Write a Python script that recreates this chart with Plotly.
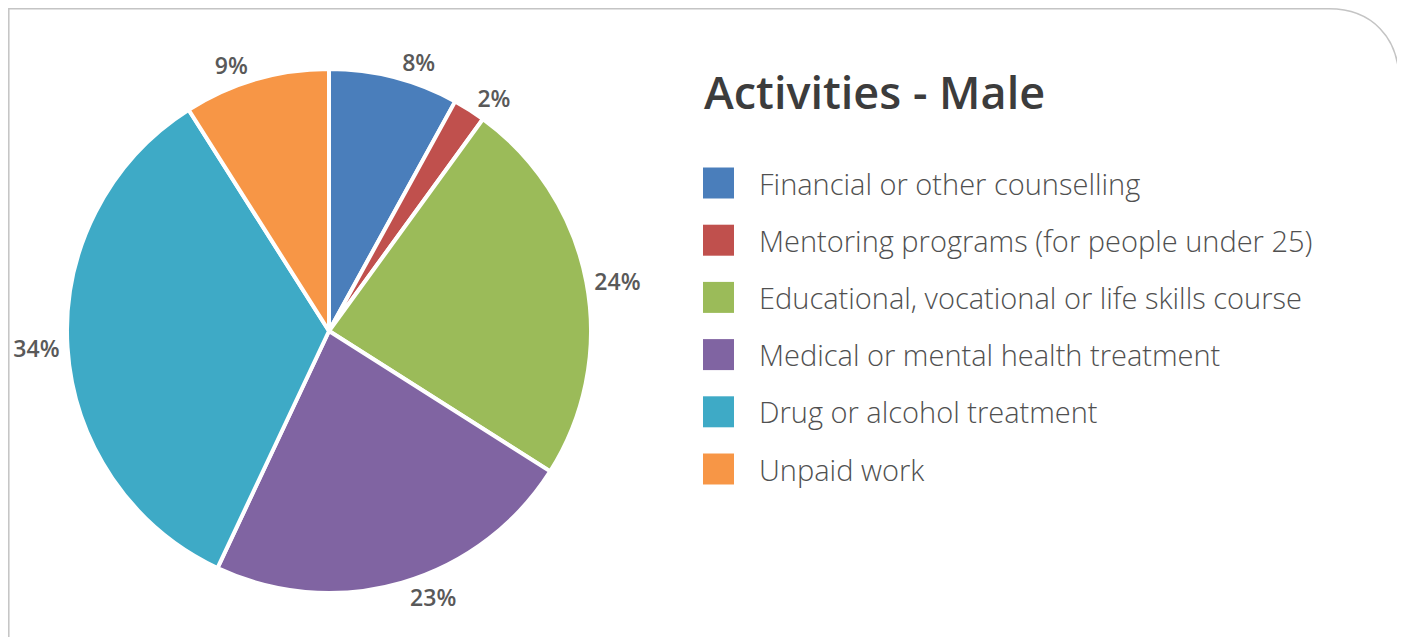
import plotly.graph_objects as go

W, H = 1405, 637

labels = ["Financial or other counselling",
          "Mentoring programs (for people under 25)",
          "Educational, vocational or life skills course",
          "Medical or mental health treatment",
          "Drug or alcohol treatment",
          "Unpaid work"]
values = [8, 2, 24, 23, 34, 9]
colors = ["#4a7ebb", "#c0504d", "#9bbb59", "#8064a2", "#3eaac6", "#f79646"]
title = "Activities - Male"

FONT = "Open Sans"
OFF = 8  # the page puts the plot 8px in from the top-left


def fx(x):
    return (x - OFF) / W


def fy(y):
    return 1 - (y - OFF) / H


fig = go.Figure()
fig.add_trace(go.Pie(
    labels=labels, values=values, sort=False, direction="clockwise", rotation=0,
    marker=dict(colors=colors, line=dict(color="white", width=4)),
    texttemplate="%{value}%", textposition="outside",
    textfont=dict(family=FONT, size=23, color="#595959", weight=600),
    domain=dict(x=[fx(67), fx(591)], y=[fy(593), fy(69)]),
    showlegend=False, hoverinfo="label+value",
))

# frame with the rounded top-right corner
fig.add_shape(type="path", xref="paper", yref="paper",
              path=f"M {fx(8.8)},{fy(650)} L {fx(8.8)},{fy(8.8)} L {fx(1329)},{fy(8.8)} "
                   f"C {fx(1372)},{fy(8.8)} {fx(1399)},{fy(38)} {fx(1399)},{fy(80)} "
                   f"L {fx(1399)},{fy(650)}",
              line=dict(color="#c4c4c4", width=1.5))

# title
fig.add_annotation(x=fx(702), y=fy(92), xref="paper", yref="paper", text=title,
                   showarrow=False, xanchor="left", yanchor="middle",
                   font=dict(family=FONT, size=45, color="#3c3c3c", weight=600))

# legend drawn by hand so the swatches can be big
for i, (lab, col) in enumerate(zip(labels, colors)):
    yc = 183 + i * 57.2
    fig.add_shape(type="rect", xref="paper", yref="paper",
                  x0=fx(703), x1=fx(734), y0=fy(yc - 15.5), y1=fy(yc + 15.5),
                  fillcolor=col, line=dict(width=0))
    fig.add_annotation(x=fx(757), y=fy(yc), xref="paper", yref="paper", text=lab,
                       showarrow=False, xanchor="left", yanchor="middle",
                       font=dict(family=FONT, size=29, color="#505050", weight=300))

fig.update_layout(width=W, height=H, margin=dict(l=0, r=0, t=0, b=0),
                  paper_bgcolor="white", plot_bgcolor="white")

fig.write_html("out.html")
